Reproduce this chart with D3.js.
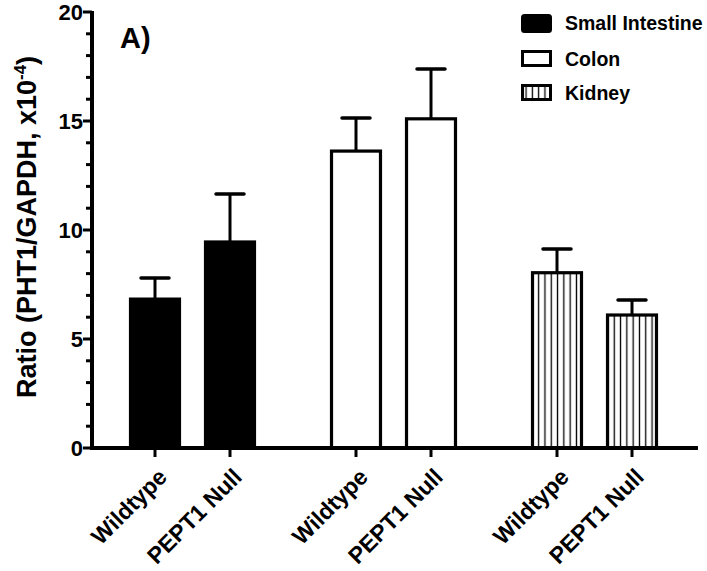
<!DOCTYPE html>
<html><head><meta charset="utf-8">
<script src="https://cdn.jsdelivr.net/npm/d3@7"></script>
<style>body{margin:0;background:#fff}svg{display:block}text{font-family:"Liberation Sans",Arial,sans-serif;font-weight:bold;fill:#000}</style>
</head><body>
<script>
const tissues = ["Small Intestine", "Colon", "Kidney"];
const genotypes = ["Wildtype", "PEPT1 Null"];
const meanValues = [[6.83, 9.45], [13.62, 15.1], [8.04, 6.1]];
const errorValues = [[0.97, 2.2], [1.52, 2.29], [1.09, 0.69]];
const yTicks = [0, 5, 10, 15, 20];
const yMinorTicks = d3.range(0, 21, 1);
const fills = ["black", "white", "url(#stripes)"];

const W = 707, H = 571;
const svg = d3.select("body").append("svg").attr("width", W).attr("height", H);
const defs = svg.append("defs");
const pat = defs.append("pattern").attr("id", "stripes").attr("patternUnits", "userSpaceOnUse")
  .attr("width", 6.3).attr("height", 10);
pat.append("rect").attr("width", 6.3).attr("height", 10).attr("fill", "white");
pat.append("line").attr("x1", 3.15).attr("x2", 3.15).attr("y1", 0).attr("y2", 10)
  .attr("stroke", "black").attr("stroke-width", 1.3);

const y = d3.scaleLinear().domain([0, 20]).range([448, 12]);
const xGroup = d3.scaleBand().domain(tissues).range([92, 695]);
const xInner = d3.scaleBand().domain(genotypes).range([0, xGroup.bandwidth()])
  .paddingInner(0.307).paddingOuter(0.4935);

// bars
tissues.forEach((t, i) => {
  genotypes.forEach((g, j) => {
    const x0 = xGroup(t) + xInner(g);
    const bw = xInner.bandwidth();
    const v = meanValues[i][j], e = errorValues[i][j];
    const cx = x0 + bw / 2;
    svg.append("line").attr("x1", cx).attr("x2", cx).attr("y1", y(v)).attr("y2", y(v + e))
      .attr("stroke", "black").attr("stroke-width", 3);
    svg.append("line").attr("x1", cx - 14).attr("x2", cx + 14).attr("y1", y(v + e)).attr("y2", y(v + e))
      .attr("stroke", "black").attr("stroke-width", 3.5).attr("stroke-linecap", "round");
    svg.append("rect").attr("x", x0 + 1.5).attr("y", y(v)).attr("width", bw - 3).attr("height", y(0) - y(v))
      .attr("fill", fills[i]).attr("stroke", "black").attr("stroke-width", 3.2);
  });
});

// y axis
const yAxisG = svg.append("g");
yAxisG.append("line").attr("x1", 92).attr("x2", 92).attr("y1", y(20) - 1).attr("y2", y(0))
  .attr("stroke", "black").attr("stroke-width", 4);
yAxisG.selectAll(".minor").data(yMinorTicks.filter(d => d % 5 !== 0)).join("line")
  .attr("x1", 86).attr("x2", 92).attr("y1", d => y(d)).attr("y2", d => y(d))
  .attr("stroke", "black").attr("stroke-width", 3);
yAxisG.selectAll(".major").data(yTicks).join("line")
  .attr("x1", 83).attr("x2", 92).attr("y1", d => y(d)).attr("y2", d => y(d))
  .attr("stroke", "black").attr("stroke-width", 3);
yAxisG.selectAll("text").data(yTicks).join("text")
  .attr("x", 83).attr("y", d => y(d) + 8).attr("text-anchor", "end")
  .style("font-size", "22px").text(d => d);

// x axis
svg.append("line").attr("x1", 90).attr("x2", 698).attr("y1", y(0)).attr("y2", y(0))
  .attr("stroke", "black").attr("stroke-width", 4);
tissues.forEach(t => {
  genotypes.forEach(g => {
    const cx = xGroup(t) + xInner(g) + xInner.bandwidth() / 2;
    svg.append("line").attr("x1", cx).attr("x2", cx).attr("y1", y(0)).attr("y2", y(0) + 9)
      .attr("stroke", "black").attr("stroke-width", 3);
    svg.append("text").attr("transform", `translate(${cx + 2},${y(0) + 19}) rotate(-45)`)
      .attr("text-anchor", "end").attr("dy", "0.7em").style("font-size", "23px").text(g);
  });
});

// y label
svg.append("text").attr("transform", "translate(36,227) rotate(-90)").attr("text-anchor", "middle")
  .style("font-size", "27px")
  .html('Ratio (PHT1/GAPDH, x10<tspan dy="-10" style="font-size:17px">-4</tspan><tspan dy="10">)</tspan>');

// panel label
svg.append("text").attr("x", 120).attr("y", 48).style("font-size", "29px").text("A)");

// legend
const leg = svg.append("g");
tissues.forEach((t, i) => {
  const yy = [23, 59, 93][i];
  leg.append("rect").attr("x", 522.5).attr("y", yy - 7.5).attr("width", 28).attr("height", i === 0 ? 16 : 14)
    .attr("rx", i === 0 ? 2 : 0)
    .attr("fill", fills[i]).attr("stroke", "black").attr("stroke-width", 3);
  leg.append("text").attr("x", 565).attr("y", yy).attr("dy", "0.36em").style("font-size", "19.5px").text(t);
});
</script>
</body></html>
